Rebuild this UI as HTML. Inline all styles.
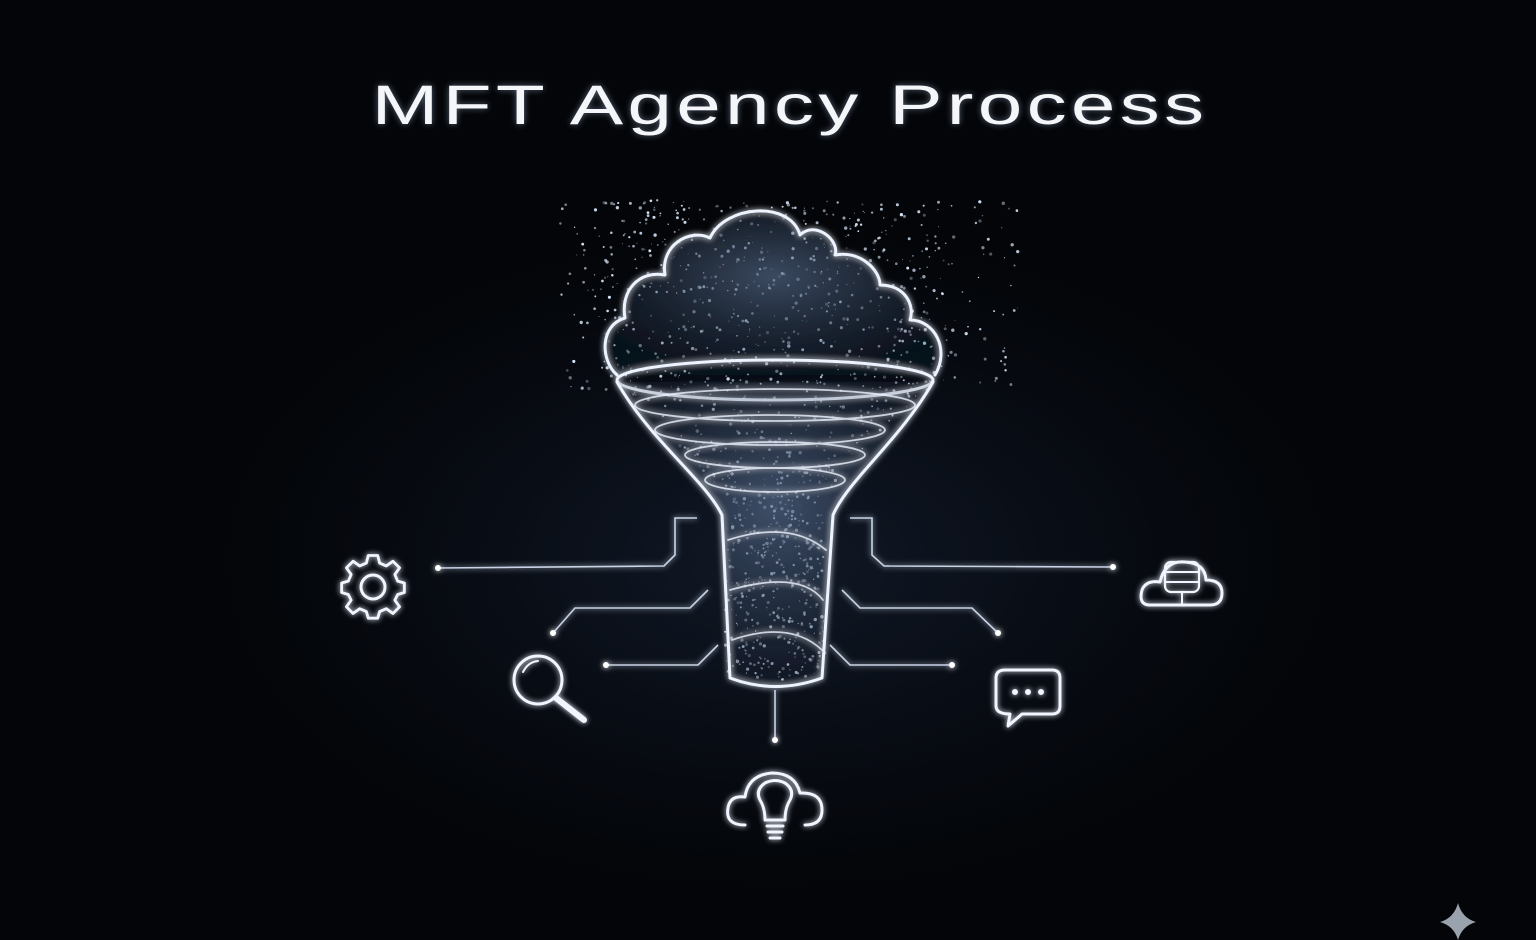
<!DOCTYPE html>
<html><head><meta charset="utf-8"><style>
html,body{margin:0;padding:0;background:#04060a;}
body{width:1536px;height:940px;overflow:hidden;position:relative;
background:radial-gradient(ellipse 560px 330px at 775px 560px,#111926 0%,#080c14 55%,#030508 100%);}
h1{position:absolute;top:72px;left:22px;width:1536px;text-align:center;margin:0;color:#f4f6fa;
font:normal 56px "Liberation Sans",sans-serif;letter-spacing:3px;transform:scaleX(1.43);transform-origin:768px 0;text-shadow:0 0 6px rgba(200,220,255,.45);}
svg{position:absolute;left:0;top:0}
</style></head><body>
<h1>MFT Agency Process</h1>
<svg width="1536" height="940" viewBox="0 0 1536 940">
<defs>
<filter id="g" x="-20%" y="-20%" width="140%" height="140%"><feGaussianBlur stdDeviation="3" result="b"/><feMerge><feMergeNode in="b"/><feMergeNode in="SourceGraphic"/></feMerge></filter>
<radialGradient id="fill" cx="50%" cy="40%" r="60%"><stop offset="0" stop-color="#5a7090" stop-opacity=".4"/><stop offset="1" stop-color="#1a2638" stop-opacity=".15"/></radialGradient>
</defs>
<g id="dots"></g>
<g fill="none" stroke="#eef4ff" stroke-width="3" filter="url(#g)" stroke-linejoin="round" stroke-linecap="round">
<path d="M617,375 C600,360 600,325 625,318 C620,290 640,270 665,275 C660,245 690,228 710,238 C725,205 790,200 800,235 C815,220 840,240 835,255 C860,250 880,270 880,285 C905,285 915,305 910,320 C935,320 950,350 935,375" fill="url(#fill)"/>
<ellipse cx="775" cy="380" rx="158" ry="20"/>
<path d="M617,382 C650,440 705,480 722,515 L730,678 Q775,695 822,678 L833,515 C848,480 900,440 933,382" fill="url(#fill)"/>
<g stroke-width="1.8" opacity=".8">
<ellipse cx="775" cy="405" rx="140" ry="16"/><ellipse cx="770" cy="430" rx="115" ry="15"/>
<ellipse cx="775" cy="455" rx="90" ry="13"/><ellipse cx="775" cy="480" rx="70" ry="12"/>
<path d="M728,540 Q790,520 826,550 M730,590 Q800,570 823,600 M732,640 Q790,620 822,650"/>
</g>
</g>
<g fill="none" stroke="#c8d4e6" stroke-width="1.6" filter="url(#g)">
<path d="M697,518 L675,518 L675,555 L664,566 L438,568"/>
<path d="M708,590 L690,608 L575,608 L553,633"/>
<path d="M718,645 L698,665 L606,665"/>
<path d="M850,518 L872,518 L872,555 L884,566 L1113,567"/>
<path d="M842,590 L860,608 L972,608 L998,633"/>
<path d="M830,645 L850,665 L952,665"/>
<path d="M775,690 L775,740"/>
</g>
<g fill="#fff" filter="url(#g)">
<circle cx="438" cy="568" r="3"/><circle cx="553" cy="633" r="3"/><circle cx="606" cy="665" r="3"/>
<circle cx="1113" cy="567" r="3"/><circle cx="998" cy="633" r="3"/><circle cx="952" cy="665" r="3"/><circle cx="775" cy="740" r="3"/>
</g>
<g fill="none" stroke="#f0f5ff" stroke-width="3" filter="url(#g)" stroke-linecap="round" stroke-linejoin="round">
<g transform="translate(373,587)">
<circle r="12"/>
<path d="M-5,-30 L5,-30 L7,-22 L14,-19 L21,-24 L28,-17 L23,-10 L26,-3 L33,-1 L33,9 L26,11 L23,17 L28,24 L21,31 L14,26 L7,29 L5,36 L-5,36 L-7,29 L-14,26 L-21,31 L-28,24 L-23,17 L-26,11 L-33,9 L-33,-1 L-26,-3 L-23,-10 L-28,-17 L-21,-24 L-14,-19 L-7,-22 Z" transform="translate(0,-3) scale(.95)"/>
</g>
<circle cx="538" cy="680" r="24"/><path d="M523,672 Q528,662 538,661" stroke-width="2"/>
<path d="M556,698 L584,720" stroke-width="6"/>
<path d="M1005,670 L1052,670 Q1060,670 1060,678 L1060,706 Q1060,714 1052,714 L1022,714 L1008,726 L1010,714 Q996,714 996,706 L996,678 Q996,670 1005,670 Z"/>
<circle cx="1015" cy="692" r="1.5" fill="#fff"/><circle cx="1028" cy="692" r="1.5" fill="#fff"/><circle cx="1041" cy="692" r="1.5" fill="#fff"/>
<path d="M1150,605 Q1138,605 1142,590 Q1146,580 1160,582 Q1165,560 1185,562 Q1205,563 1206,580 Q1222,580 1222,593 Q1222,605 1210,605 Z"/>
<rect x="1165" y="562" width="34" height="30" rx="6" stroke-width="2.2"/><path d="M1165,572 L1199,572 M1165,582 L1199,582 M1182,592 L1182,605" stroke-width="2"/>
<path d="M745,825 Q725,825 728,808 Q730,795 745,797 Q748,775 772,773 Q795,773 800,793 Q822,792 822,810 Q822,825 805,825"/>
<path d="M765,820 Q765,808 760,800 Q755,790 765,783 Q775,778 785,783 Q795,790 790,800 Q785,808 785,820 Z"/>
<path d="M767,826 L783,826 M768,832 L782,832 M770,838 L780,838"/>
</g>
<path d="M1458,903 Q1462,918 1476,922 Q1462,926 1458,940 Q1454,926 1440,922 Q1454,918 1458,903 Z" fill="#9aa3ad"/>
</svg>
<script>
(function(){var g=document.getElementById('dots'),s=12345;function r(){s=(s*16807)%2147483647;return s/2147483647;}
var h='';for(var i=0;i<1500;i++){var x,y;var t=r();
if(t<.55){x=560+r()*460;y=200+r()*190;if(Math.abs(x-775)>175&&r()<.6)continue;}else{y=380+r()*300;var w=y<515?158-(y-380)*0.95:50;x=775+(r()*2-1)*w;}
h+='<circle cx="'+x.toFixed(1)+'" cy="'+y.toFixed(1)+'" r="'+(0.5+r()*1.2).toFixed(2)+'" fill="#d5e4f7" opacity="'+(0.3+r()*0.7).toFixed(2)+'"/>';}
g.innerHTML=h;})();
</script>
</body></html>
